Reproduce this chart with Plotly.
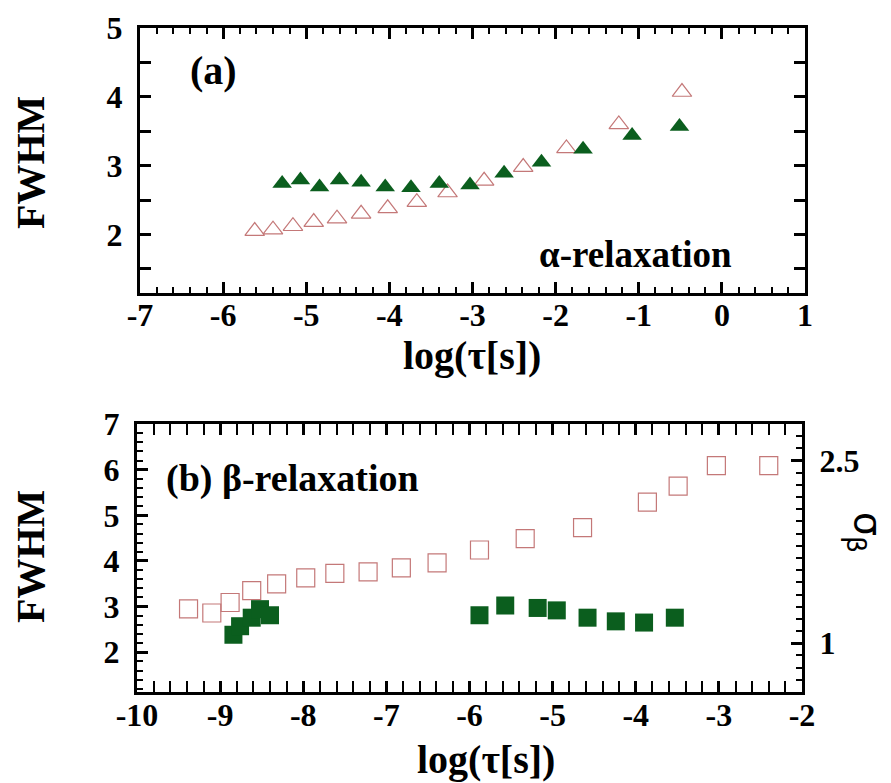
import plotly.graph_objects as go

# ---- data: panel (a) alpha-relaxation ----
a_open_x = [-5.62, -5.40, -5.16, -4.91, -4.63, -4.34, -4.02, -3.67, -3.30, -2.86, -2.39, -1.87, -1.24, -0.48]
a_open_y = [2.05, 2.07, 2.12, 2.18, 2.23, 2.30, 2.38, 2.47, 2.61, 2.78, 2.98, 3.25, 3.60, 4.07]
a_fill_x = [-5.29, -5.07, -4.84, -4.60, -4.34, -4.05, -3.74, -3.40, -3.03, -2.62, -2.17, -1.67, -1.08, -0.51]
a_fill_y = [2.74, 2.79, 2.69, 2.79, 2.76, 2.69, 2.68, 2.74, 2.72, 2.89, 3.05, 3.24, 3.44, 3.57]

# ---- data: panel (b) beta-relaxation ----
b_open_x = [-9.38, -9.10, -8.88, -8.62, -8.32, -7.97, -7.62, -7.22, -6.82, -6.39, -5.88, -5.33, -4.64, -3.86, -3.49, -3.03, -2.40]
b_open_y = [2.95, 2.86, 3.09, 3.35, 3.50, 3.63, 3.73, 3.76, 3.85, 3.96, 4.24, 4.49, 4.73, 5.29, 5.64, 6.09, 6.09]
b_sig_x = [-8.84, -8.76, -8.62, -8.52, -8.40, -5.88, -5.57, -5.18, -4.95, -4.58, -4.24, -3.90, -3.53]
b_sig_y = [1.07, 1.14, 1.21, 1.28, 1.23, 1.23, 1.31, 1.29, 1.27, 1.21, 1.18, 1.17, 1.21]

a_x_ticks = [-7, -6, -5, -4, -3, -2, -1, 0, 1]
a_x_text = ["-7", "-6", "-5", "-4", "-3", "-2", "-1", "0", "1"]
a_y_ticks = [1.5, 2, 2.5, 3, 3.5, 4, 4.5, 5]
a_y_text = ["", "2", "", "3", "", "4", "", "5"]
b_x_ticks = [-10, -9, -8, -7, -6, -5, -4, -3, -2]
b_x_text = ["-10", "-9", "-8", "-7", "-6", "-5", "-4", "-3", "-2"]
b_y_ticks = [2, 3, 4, 5, 6, 7]
b_y_text = ["2", "3", "4", "5", "6", "7"]
sig_ticks = [1, 1.5, 2, 2.5]
sig_text = ["1", "", "", "2.5"]

GREEN = "#0b5e1e"
PINK = "#c47878"
FONT = "Liberation Serif"
W, H = 891, 783

fig = go.Figure()
fig.add_trace(go.Scatter(x=a_open_x, y=a_open_y, mode="markers", xaxis="x", yaxis="y",
                         marker=dict(symbol="triangle-up-open", size=17, color=PINK, line=dict(width=1.2, color=PINK))))
fig.add_trace(go.Scatter(x=a_fill_x, y=a_fill_y, mode="markers", xaxis="x", yaxis="y",
                         marker=dict(symbol="triangle-up", size=17, color=GREEN, line=dict(width=0))))
fig.add_trace(go.Scatter(x=b_open_x, y=b_open_y, mode="markers", xaxis="x2", yaxis="y2",
                         marker=dict(symbol="square-open", size=18, color=PINK, line=dict(width=1.2, color=PINK))))
fig.add_trace(go.Scatter(x=b_sig_x, y=b_sig_y, mode="markers", xaxis="x2", yaxis="y3",
                         marker=dict(symbol="square", size=18, color=GREEN, line=dict(width=0))))

tickfont = dict(family=FONT, size=32, color="black", weight="bold")
common = dict(showline=True, linewidth=3, linecolor="black", ticks="inside", ticklen=11, tickwidth=2.5,
              tickcolor="black", showgrid=False, zeroline=False, tickfont=tickfont, automargin=False,
              tickmode="array")
minor = dict(ticks="inside", ticklen=6, tickwidth=2, tickcolor="black", showgrid=False)

def px(x):
    return x / W

def py(y):
    return 1 - y / H

fig.update_layout(
    width=W, height=H, margin=dict(l=0, r=0, t=0, b=0, autoexpand=False),
    paper_bgcolor="white", plot_bgcolor="white", showlegend=False,
    xaxis=dict(domain=[px(140), px(805)], anchor="y", range=[-7, 1], tickvals=a_x_ticks, ticktext=a_x_text,
               mirror="allticks", ticklabelstandoff=-8, minor=dict(dtick=0.2, **minor), **common),
    yaxis=dict(domain=[py(293), py(28)], anchor="x", range=[1.15, 5], ticklabelstandoff=8,
               tickvals=a_y_ticks, ticktext=a_y_text, mirror="allticks", **common),
    xaxis2=dict(domain=[px(137), px(802)], anchor="y2", range=[-10, -2], tickvals=b_x_ticks, ticktext=b_x_text,
                mirror="allticks", ticklabelstandoff=-7, minor=dict(dtick=0.2, **minor), **common),
    yaxis2=dict(domain=[py(692), py(424)], anchor="x2", range=[1.13, 7], tickvals=b_y_ticks, ticktext=b_y_text,
                mirror=True, ticklabelstandoff=8, minor=dict(dtick=0.2, **minor), **common),
    yaxis3=dict(overlaying="y2", side="right", anchor="x2", range=[0.6, 2.8],
                tickvals=sig_ticks, ticktext=sig_text, ticklabelstandoff=8,
                minor=dict(tickvals=[round(0.6 + 0.1 * i, 2) for i in range(23)], **minor), **common),
)

def ann(text, x, y, size, angle=0, xanchor="center"):
    fig.add_annotation(text=text, x=px(x), y=py(y), xref="paper", yref="paper", showarrow=False,
                       textangle=angle, xanchor=xanchor, yanchor="middle",
                       font=dict(family=FONT, size=size, color="black", weight="bold"))

ann("FWHM", 30, 163, 40, angle=-90)
ann("FWHM", 30, 557, 40, angle=-90)
ann("log(τ[s])", 472, 355, 40)
ann("log(τ[s])", 486, 759, 40)
ann("(a)", 188, 70, 40, xanchor="left")
ann("α-relaxation", 635, 255, 37)
ann("(b) β-relaxation", 164, 478, 38, xanchor="left")
fig.add_annotation(text="σ<sub>β</sub>", x=px(866), y=py(532), xref="paper", yref="paper", showarrow=False,
                   textangle=90, xanchor="center", yanchor="middle",
                   font=dict(family="DejaVu Sans", size=38, color="black"))

fig.write_html("out.html")
